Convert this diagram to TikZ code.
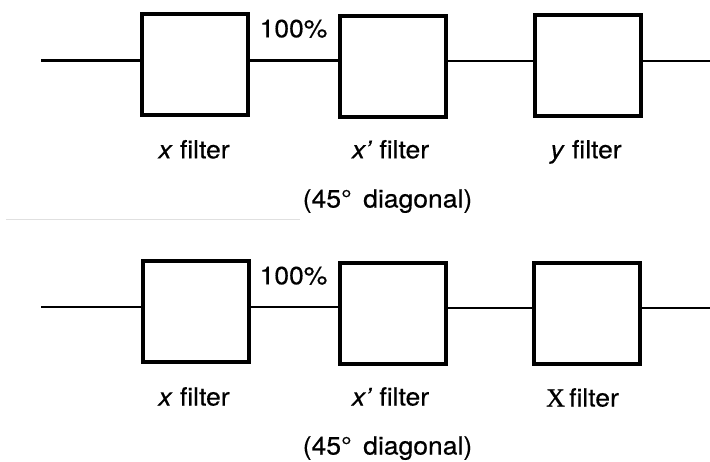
\documentclass[tikz,border=0pt]{standalone}
\usepackage{fontspec}
\setmainfont{TeX Gyre Heros}[FakeStretch=1.06,FakeBold=0.4]
\newfontfamily\serifX{Liberation Serif}[FakeBold=0.8]
\begin{document}
\begin{tikzpicture}[x=1pt,y=-1pt,
  filterbox/.style={draw,line width=3.9pt,minimum width=106pt,minimum height=101pt,inner sep=0pt},
  wire/.style={line width=2.1pt},
  lbl/.style={anchor=base,inner sep=0pt,font=\fontsize{25}{28}\selectfont},
  scanline/.style={line width=1.5pt,color=black!12}]
\useasboundingbox (0,0) rectangle (710,461);
% ---- top row ----
\node[filterbox] (a1) at (195.4,64.6) {};
\node[filterbox] (a2) at (393.3,66.2) {};
\node[filterbox] (a3) at (587.6,65.8) {};
\coordinate (ain) at (41,60.5);
\coordinate (aout) at (710,61);
\draw[wire] (ain) -- (a1.west |- ain);
\draw[wire] (a1.east |- ain) -- (a2.west |- ain);
\draw[wire] (a2.east |- aout) -- (a3.west |- aout);
\draw[wire] (a3.east |- aout) -- (aout);
\node[lbl] (ap) at (293.5,37.3) {100\%};
\node[lbl] (al1) at (194,158.3) {\textit{x} filter};
\node[lbl] (al2) at (390.5,158.3) {\textit{x\symbol{39}} filter};
\node[lbl] (al3) at (586,158.3) {\textit{y} filter};
\node[lbl] (ad) at (387.5,207.5) {(45°\, diagonal)};
% faint scan line
\coordinate (s1) at (6,219.5);
\coordinate (s2) at (300,219.5);
\draw[scanline] (s1) -- (s2);
% ---- bottom row ----
\node[filterbox] (b1) at (195.7,311.8) {};
\node[filterbox] (b2) at (393.3,313.7) {};
\node[filterbox] (b3) at (587,313.3) {};
\coordinate (bin) at (41,306.7);
\coordinate (bout) at (710,308);
\draw[wire] (bin) -- (b1.west |- bin);
\draw[wire] (b1.east |- bin) -- (b2.west |- bin);
\draw[wire] (b2.east |- bout) -- (b3.west |- bout);
\draw[wire] (b3.east |- bout) -- (bout);
\node[lbl] (bp) at (293.5,284.3) {100\%};
\node[lbl] (bl1) at (194,405.5) {\textit{x} filter};
\node[lbl] (bl2) at (390.5,405.5) {\textit{x\symbol{39}} filter};
\node[lbl] (bl3) at (582.5,406.5) {{\serifX\fontsize{26}{28}\selectfont X}\,filter};
\node[lbl] (bd) at (387.5,454.5) {(45°\, diagonal)};
\end{tikzpicture}
\end{document}
